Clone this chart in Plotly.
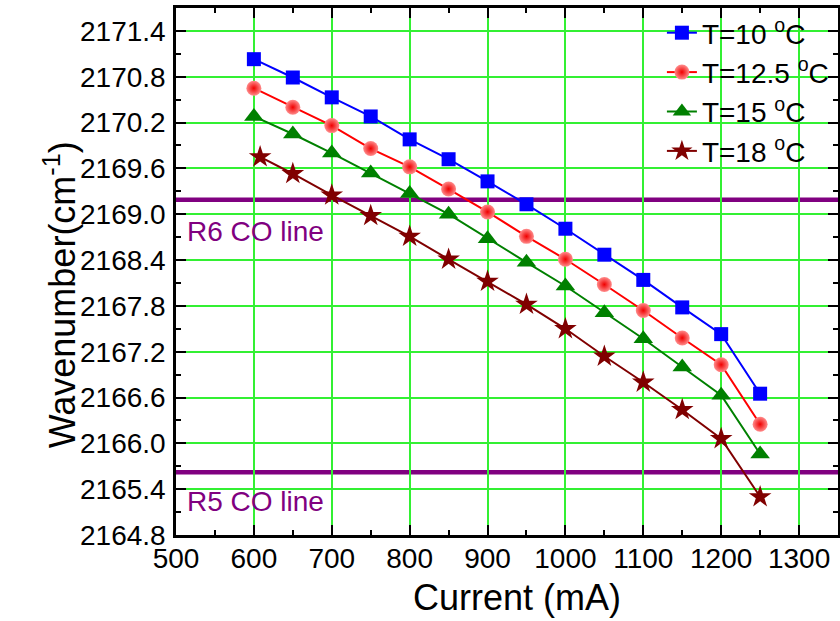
import plotly.graph_objects as go

# ---------------- data ----------------
current_ma = [600, 650, 700, 750, 800, 850, 900, 950, 1000, 1050, 1100, 1150, 1200, 1250]
current_ma_18 = [608, 650, 700, 750, 800, 850, 900, 950, 1000, 1050, 1100, 1150, 1200, 1250]

wn_10 = [2171.03, 2170.79, 2170.53, 2170.28, 2169.98, 2169.72, 2169.43, 2169.13,
         2168.81, 2168.47, 2168.14, 2167.78, 2167.43, 2166.65]
wn_12_5 = [2170.65, 2170.40, 2170.16, 2169.86, 2169.62, 2169.33, 2169.03, 2168.71,
           2168.41, 2168.08, 2167.74, 2167.38, 2167.03, 2166.25]
wn_15 = [2170.28, 2170.05, 2169.80, 2169.54, 2169.27, 2169.00, 2168.68, 2168.37,
         2168.06, 2167.71, 2167.37, 2167.00, 2166.63, 2165.86]
wn_18 = [2169.75, 2169.53, 2169.25, 2168.98, 2168.71, 2168.41, 2168.12, 2167.82,
         2167.50, 2167.14, 2166.80, 2166.44, 2166.06, 2165.30]

series_names = ["T=10 <sup>o</sup>C", "T=12.5 <sup>o</sup>C", "T=15 <sup>o</sup>C", "T=18 <sup>o</sup>C"]

co_line_wavenumbers = [2169.19, 2165.62]
co_line_labels = ["R6 CO line", "R5 CO line"]
co_label_y = [2168.78, 2165.24]

x_tick_vals = [500, 600, 700, 800, 900, 1000, 1100, 1200, 1300]
y_tick_vals = [2164.8, 2165.4, 2166.0, 2166.6, 2167.2, 2167.8, 2168.4, 2169.0,
               2169.6, 2170.2, 2170.8, 2171.4]

# ---------------- figure ----------------
FONT = "Liberation Sans, Arial, sans-serif"
GRID = "#33F033"
fig = go.Figure()

styles = [
    dict(color="#0000FF", symbol="square", size=14),
    dict(color="#FF0000", symbol="circle", size=15),
    dict(color="#008000", symbol="triangle-up", size=17),
    dict(color="#800000", symbol="star", size=17),
]
xs = [current_ma, current_ma, current_ma, current_ma_18]
ys = [wn_10, wn_12_5, wn_15, wn_18]

for name, x, y, st in zip(series_names, xs, ys, styles):
    marker = dict(color=st["color"], symbol=st["symbol"], size=st["size"], line=dict(width=0))
    if st["symbol"] == "circle":
        marker["color"] = "#FF8C8C"
        marker["gradient"] = dict(type="radial", color="#F00000")
    fig.add_trace(go.Scatter(
        x=x, y=y, name=name, mode="lines+markers",
        line=dict(color=st["color"], width=2),
        marker=marker,
    ))

for yv in co_line_wavenumbers:
    fig.add_shape(type="line", xref="paper", x0=0, x1=1, yref="y", y0=yv, y1=yv,
                  line=dict(color="#800080", width=4.5), layer="between")

for lbl, yv in zip(co_line_labels, co_label_y):
    fig.add_annotation(x=500, y=yv, xref="x", yref="y", text=lbl, showarrow=False,
                       xanchor="left", yanchor="middle", xshift=9,
                       font=dict(family=FONT, size=28, color="#800080"))

# axis titles as annotations for precise placement
fig.add_annotation(xref="paper", yref="paper", x=0.515, y=-0.118, text="Current (mA)",
                   showarrow=False, xanchor="center", yanchor="middle",
                   font=dict(family=FONT, size=36, color="black"))
fig.add_annotation(xref="paper", yref="paper", x=-0.175, y=0.455,
                   text="Wavenumber(cm<sup>-1</sup>)", textangle=-90,
                   showarrow=False, xanchor="center", yanchor="middle",
                   font=dict(family=FONT, size=36, color="black"))

axis_common = dict(
    showline=True, linecolor="black", linewidth=2.5, mirror="ticks",
    ticks="inside", ticklen=10, tickwidth=2, tickcolor="black",
    showgrid=True, gridcolor=GRID, gridwidth=1.5,
    zeroline=False, automargin=False,
    tickfont=dict(family=FONT, size=28, color="black"),
)

fig.update_xaxes(range=[500, 1350], tickvals=x_tick_vals,
                 minor=dict(ticks="inside", ticklen=5, tickwidth=2, tickcolor="black",
                            dtick=50, tick0=500, showgrid=False, gridcolor=GRID),
                 ticklabelstandoff=-3, **axis_common)
fig.update_yaxes(range=[2164.8, 2171.7], tickvals=y_tick_vals, tickformat=".1f",
                 minor=dict(ticks="inside", ticklen=5, tickwidth=2, tickcolor="black",
                            dtick=0.3, tick0=2164.8, showgrid=False, gridcolor=GRID),
                 ticklabelstandoff=2, **axis_common)

fig.update_layout(
    width=840, height=621,
    margin=dict(l=176, r=2, t=8, b=86),
    paper_bgcolor="white", plot_bgcolor="white",
    font=dict(family=FONT, color="black"),
    showlegend=True,
    legend=dict(x=0.734, y=1.0, xanchor="left", yanchor="top",
                bgcolor="rgba(0,0,0,0)", borderwidth=0,
                font=dict(family=FONT, size=28, color="black"),
                tracegroupgap=0),
)

fig.write_html("out.html", config={"displayModeBar": False},
               post_script="document.body.style.margin='0';document.body.style.overflow='hidden';")
